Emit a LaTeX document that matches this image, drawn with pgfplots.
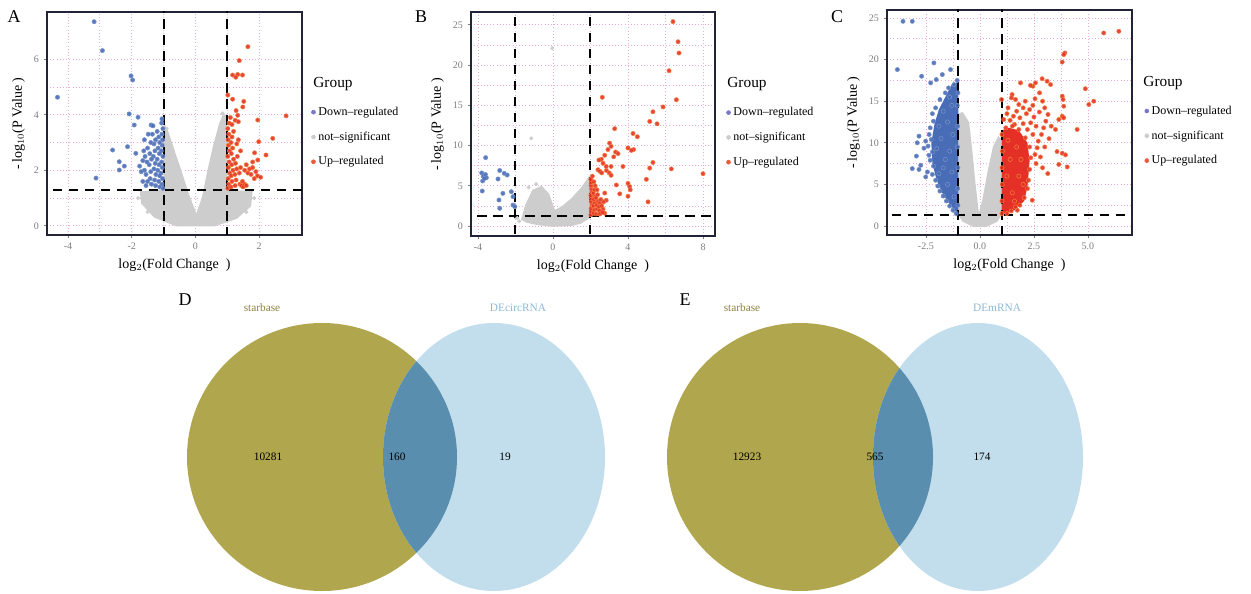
\documentclass[border=0pt]{standalone}
\usepackage{fontspec}
\setmainfont{Liberation Serif}
\usepackage{pgfplots}
\pgfplotsset{compat=1.18}
\definecolor{downc}{RGB}{72,108,182}
\definecolor{upc}{RGB}{228,48,38}
\definecolor{upe}{RGB}{242,125,60}
\definecolor{nsc}{RGB}{205,205,205}
\definecolor{gridc}{RGB}{238,170,215}
\definecolor{framec}{RGB}{35,35,55}
\definecolor{tickc}{RGB}{125,125,125}
\definecolor{vennL}{RGB}{176,166,78}
\definecolor{vennO}{RGB}{90,142,174}
\definecolor{vennR}{RGB}{194,222,236}
\definecolor{legdown}{RGB}{120,120,200}
\definecolor{legup}{RGB}{235,90,60}
\definecolor{txtL}{RGB}{140,130,60}
\definecolor{txtR}{RGB}{140,185,215}
\pgfplotsset{
 volcano/.style={
  scale only axis,
  axis line style={framec, line width=1.4pt},
  grid=both,
  major grid style={gridc, dotted, line width=0.6pt},
  minor grid style={gridc, dotted, line width=0.6pt},
  minor tick num=1,
  minor tick length=0pt,
  major tick length=2.5pt,
  tick align=outside,
  xtick pos=left, ytick pos=left,
  tick style={tickc, line width=0.6pt},
  tick label style={font=\fontsize{7.5}{8}\selectfont, text=tickc},
  /pgf/number format/assume math mode=true,
  xlabel style={font=\fontsize{10.5}{12}\selectfont},
  ylabel style={font=\fontsize{10.5}{12}\selectfont},
  xlabel={log$_2$(Fold Change\ \ )},
  ylabel={-\,log$_{10}$(P Value\ )},
  legend style={draw=none, fill=none, font=\fontsize{9}{10}\selectfont, anchor=north west, row sep=6.8pt, inner sep=0pt},
  legend cell align=left,
 },
 dn/.style={only marks, mark=*, mark size=1.6pt, mark options={fill=downc, draw=downc!75!white, fill opacity=0.9}, forget plot},
 up/.style={only marks, mark=*, mark size=1.6pt, mark options={fill=upc, draw=upe, fill opacity=0.9}, forget plot},
 ns/.style={only marks, mark=*, mark size=1.3pt, mark options={fill=nsc, draw=nsc}, forget plot},
 nsarea/.style={fill=nsc, draw=none, forget plot},
 dnarea/.style={fill=downc, draw=none, forget plot},
 uparea/.style={fill=upc, draw=none, forget plot},
 thr/.style={black, line width=1.5pt, dash pattern=on 7pt off 5pt, forget plot},
}
\newcommand{\legendset}{%
 \addlegendimage{legend image code/.code={\fill[legdown] (0.1cm,0cm) circle (1.5pt);}}
 \addlegendentry{Down--regulated}
 \addlegendimage{legend image code/.code={\fill[nsc] (0.1cm,0cm) circle (1.5pt);}}
 \addlegendentry{not--significant}
 \addlegendimage{legend image code/.code={\fill[legup] (0.1cm,0cm) circle (1.5pt);}}
 \addlegendentry{Up--regulated}
}
\begin{document}
\begin{tikzpicture}
\path[use as bounding box] (0pt,0pt) rectangle (938.25pt,444.75pt);
% ---------- full-picture axis: Venn diagrams and labels ----------
\begin{axis}[at={(0pt,0pt)}, anchor=south west, scale only axis,
  width=938.25pt, height=444.75pt, xmin=0, xmax=1251, ymin=0, ymax=593,
  hide axis, clip=false]
\fill[vennL] (axis cs:322,136) ellipse [x radius=135, y radius=134];
\fill[vennR] (axis cs:494,136) ellipse [x radius=111, y radius=134];
\begin{scope}
\clip (axis cs:322,136) ellipse [x radius=135, y radius=134];
\fill[vennO] (axis cs:494,136) ellipse [x radius=111, y radius=134];
\end{scope}
\fill[vennL] (axis cs:800,136) ellipse [x radius=133, y radius=134];
\fill[vennR] (axis cs:978,136) ellipse [x radius=105, y radius=134];
\begin{scope}
\clip (axis cs:800,136) ellipse [x radius=133, y radius=134];
\fill[vennO] (axis cs:978,136) ellipse [x radius=105, y radius=134];
\end{scope}
\node[font=\fontsize{8.5}{10}\selectfont, text=txtL] at (axis cs:262,285) {starbase};
\node[font=\fontsize{8.5}{10}\selectfont, text=txtR] at (axis cs:518,285) {DEcircRNA};
\node[font=\fontsize{8.5}{10}\selectfont, text=txtL] at (axis cs:742,285) {starbase};
\node[font=\fontsize{8.5}{10}\selectfont, text=txtR] at (axis cs:997,285) {DEmRNA};
\node[font=\fontsize{8.5}{10}\selectfont] at (axis cs:268,136) {10281};
\node[font=\fontsize{8.5}{10}\selectfont] at (axis cs:397,136) {160};
\node[font=\fontsize{8.5}{10}\selectfont] at (axis cs:505,136) {19};
\node[font=\fontsize{8.5}{10}\selectfont] at (axis cs:747,136) {12923};
\node[font=\fontsize{8.5}{10}\selectfont] at (axis cs:875,136) {565};
\node[font=\fontsize{8.5}{10}\selectfont] at (axis cs:982,136) {174};
\node[font=\fontsize{13.5}{15}\selectfont] at (axis cs:14,576) {A};
\node[font=\fontsize{13.5}{15}\selectfont] at (axis cs:421,576) {B};
\node[font=\fontsize{13.5}{15}\selectfont] at (axis cs:837,576) {C};
\node[font=\fontsize{13.5}{15}\selectfont] at (axis cs:185,293) {D};
\node[font=\fontsize{13.5}{15}\selectfont] at (axis cs:685,293) {E};
\node[font=\fontsize{11.5}{13}\selectfont] at (axis cs:333,509) {Group};
\node[font=\fontsize{11.5}{13}\selectfont] at (axis cs:747,509) {Group};
\node[font=\fontsize{11.5}{13}\selectfont] at (axis cs:1163,510) {Group};
\end{axis}
% ---------- A ----------
\begin{axis}[volcano, at={(35.25pt,268.5pt)}, anchor=south west,
  width=191.25pt, height=167.25pt,
  xmin=-4.66, xmax=3.35, ymin=-0.33, ymax=7.7,
  xtick={-4,-2,0,2}, ytick={0,2,4,6},
  legend style={at={(1.035,0.587)}}]
\legendset
\addplot[nsarea] coordinates {(-1.75,1.25) (-1.0,1.3) (-1.0,3.8) (-1.08,3.95) (-0.85,3.4) (-0.62,2.6) (-0.44,2.0) (-0.22,1.2) (0.03,0.45) (0.2,1.0) (0.38,2.0) (0.56,2.9) (0.75,3.7) (0.88,4.05) (1.0,3.95) (1.0,1.3) (1.8,1.25) (1.75,0.7) (1.3,0.25) (0.6,-0.02) (-0.6,-0.02) (-1.3,0.3) (-1.7,0.8)} -- cycle;
\addplot[ns] coordinates {(0.85,4.05) (-0.9,3.5) (1.85,1.0) (-1.8,1.0) (0.3,0.05) (-0.3,0.05) (1.6,0.5) (-1.5,0.5)};
\addplot[dn] coordinates {(-3.18,7.35) (-2.92,6.31) (-4.33,4.63) (-2.02,5.40) (-1.97,5.25) (-2.08,4.03) (-1.80,3.91) (-1.92,3.63) (-2.60,2.73) (-2.13,2.85) (-2.39,2.31) (-2.39,2.01) (-2.23,2.15) (-3.12,1.72) (-1.87,2.61) (-1.39,3.63) (-1.33,3.60)
(-1.02,1.35) (-1.05,1.5) (-1.03,1.7) (-1.08,1.9) (-1.04,2.1) (-1.06,2.3) (-1.02,2.5) (-1.07,2.7) (-1.04,2.9) (-1.03,3.1) (-1.05,3.3) (-1.02,3.5) (-1.06,3.7) (-1.05,3.85)
(-1.12,1.4) (-1.15,1.6) (-1.12,1.8) (-1.18,2.0) (-1.14,2.2) (-1.2,2.4) (-1.13,2.6) (-1.17,2.8) (-1.12,3.0) (-1.15,3.2) (-1.2,3.4)
(-1.25,1.45) (-1.28,1.65) (-1.24,1.85) (-1.3,2.05) (-1.26,2.25) (-1.32,2.5) (-1.27,2.7) (-1.3,2.95) (-1.25,3.1) (-1.35,3.3)
(-1.38,1.5) (-1.42,1.7) (-1.4,1.95) (-1.45,2.2) (-1.38,2.4) (-1.43,2.6) (-1.5,2.8) (-1.4,3.0)
(-1.5,1.6) (-1.55,1.85) (-1.6,2.0) (-1.52,2.3) (-1.58,2.5) (-1.62,2.7) (-1.7,1.95) (-1.75,2.15) (-1.65,2.35) (-1.48,3.3) (-1.6,3.1) (-1.55,1.45) (-1.65,1.6)};
\addplot[up] coordinates {(1.65,6.45) (1.38,5.95) (1.17,5.43) (1.33,5.45) (1.48,5.43) (1.27,5.35) (1.02,4.71) (1.17,4.56) (1.52,4.48) (1.49,4.28) (1.28,4.15) (1.33,3.98) (2.85,3.96) (1.96,3.81) (2.43,3.15) (1.99,3.03) (2.22,2.55) (1.86,2.63) (1.96,2.37)
(1.02,1.35) (1.05,1.5) (1.03,1.7) (1.08,1.9) (1.04,2.1) (1.06,2.3) (1.02,2.5) (1.07,2.7) (1.04,2.9) (1.03,3.1) (1.05,3.3) (1.02,3.5) (1.06,3.7) (1.12,1.4) (1.15,1.6) (1.12,1.8) (1.18,2.0) (1.14,2.2) (1.2,2.4) (1.13,2.6) (1.17,2.8) (1.12,3.0) (1.15,3.2) (1.2,3.4) (1.1,3.9) (1.15,3.65) (1.25,1.45) (1.28,1.65) (1.24,1.85) (1.3,2.05) (1.26,2.25) (1.32,2.5) (1.3,2.95) (1.25,3.8) (1.35,3.75) (1.4,1.5) (1.45,1.45) (1.5,1.4) (1.55,1.5) (1.6,1.45) (1.48,1.6) (1.38,1.9) (1.42,2.1) (1.55,2.0) (1.65,1.9) (1.7,2.05) (1.75,1.85) (1.8,2.1) (1.9,1.95) (1.95,1.8) (2.05,1.75) (1.85,1.7) (1.35,3.1) (1.42,2.7) (1.6,2.2) (1.8,2.3)};
\addplot[thr] coordinates {(-1,-5) (-1,30)};
\addplot[thr] coordinates {(1,-5) (1,30)};
\addplot[thr] coordinates {(-10,1.301) (10,1.301)};
\end{axis}
% ---------- B ----------
\begin{axis}[volcano, at={(353.25pt,267.75pt)}, anchor=south west,
  width=183pt, height=168pt,
  xmin=-4.37, xmax=8.64, ymin=-1.24, ymax=26.6,
  xtick={-4,0,4,8}, ytick={0,5,10,15,20,25},
  legend style={at={(1.045,0.587)}}]
\legendset
\addplot[nsarea] coordinates {(-1.7,0.8) (-1.5,2.5) (-1.1,4.5) (-0.6,5.0) (-0.2,4.0) (0.1,2.0) (0.5,2.5) (1.0,3.5) (1.5,4.8) (1.95,6.3) (1.98,1.0) (1.5,0.3) (1.0,0.0) (0,-0.1) (-0.8,0.1) (-1.4,0.4)} -- cycle;
\addplot[ns] coordinates {(-0.04,22.1) (-1.16,10.9) (-1.9,1.0) (-1.8,0.6) (-1.3,4.8) (-0.9,5.2)};
\addplot[dn] coordinates {(-3.59,8.5) (-3.8,6.6) (-3.72,6.2) (-3.6,6.4) (-3.55,6.0) (-3.75,5.6) (-3.66,5.9) (-3.77,4.35) (-2.84,6.9) (-2.6,6.55) (-2.44,6.34) (-2.93,5.85) (-2.67,4.06) (-2.88,3.23) (-2.84,2.2) (-2.22,4.27) (-2.13,3.65) (-2.13,2.6) (-2.03,2.4)};
\addplot[up] coordinates {(6.4,25.4) (6.67,22.9) (6.72,21.5) (6.19,19.3) (2.63,16.0) (6.58,15.7) (5.87,14.8) (5.33,14.2) (5.16,13.0) (5.55,12.7) (3.29,12.1) (4.27,11.5) (4.5,11.1) (3.02,10.3) (3.1,9.9) (2.93,9.5) (4.0,9.7) (4.3,9.5) (4.18,9.4) (3.34,9.2) (3.47,9.0) (3.24,8.6) (2.76,8.8) (2.58,8.3) (2.45,8.2) (2.67,7.8) (2.84,7.4) (3.1,7.4) (3.73,7.4) (5.33,7.9) (5.16,7.2) (6.31,7.1) (8.0,6.5) (4.98,5.8) (2.4,7.0) (2.5,6.8) (2.6,6.6) (2.85,6.9) (3.0,6.6) (3.1,6.3) (4.0,5.3) (4.09,4.9) (4.12,4.5) (3.38,5.1) (3.56,4.0) (4.0,3.7) (5.07,3.0) (2.76,4.1) (2.84,3.2) (2.76,1.6) (2.67,2.1)
(2.02,1.4) (2.05,1.8) (2.03,2.2) (2.08,2.6) (2.04,3.0) (2.06,3.4) (2.02,3.8) (2.07,4.2) (2.04,4.6) (2.03,5.0) (2.05,5.4) (2.02,5.8) (2.1,6.2) (2.15,1.6) (2.2,2.0) (2.15,2.5) (2.22,2.9) (2.18,3.3) (2.25,3.7) (2.15,4.1) (2.2,4.5) (2.25,5.0) (2.18,5.5) (2.3,1.5) (2.35,2.1) (2.32,2.6) (2.4,3.1) (2.3,3.5) (2.38,3.9) (2.45,2.4) (2.5,2.9) (2.55,3.3) (2.48,1.9) (2.6,2.5) (2.35,4.5) (2.5,1.5) (2.65,1.7) (2.7,3.0)};
\addplot[thr] coordinates {(-2,-5) (-2,30)};
\addplot[thr] coordinates {(2,-5) (2,30)};
\addplot[thr] coordinates {(-10,1.301) (10,1.301)};
\end{axis}
% ---------- C ----------
\begin{axis}[volcano, at={(665.25pt,268.5pt)}, anchor=south west,
  width=183.75pt, height=168.75pt,
  xmin=-4.3, xmax=7.04, ymin=-1.08, ymax=25.96,
  xtick={-2.5,0,2.5,5}, ytick={0,5,10,15,20,25},
  xticklabel style={/pgf/number format/.cd, fixed, fixed zerofill, precision=1},
  legend style={at={(1.05,0.587)}}]
\legendset
\addplot[nsarea] coordinates {(-1.0,1.3) (-1.0,13.5) (-0.8,13.7) (-0.5,12.5) (-0.35,9) (-0.2,5) (-0.05,1.6) (0.1,3) (0.35,6.5) (0.6,9.5) (0.85,10.8) (1.0,10.5) (1.0,1.3) (0.8,0.5) (0.3,-0.1) (-0.3,-0.1) (-0.8,0.5)} -- cycle;
\addplot[dnarea] coordinates {(-1.0,1.4) (-1.4,2.6) (-1.75,4.0) (-2.0,5.5) (-2.2,7.5) (-2.25,10) (-2.1,12.3) (-1.9,14) (-1.6,15.5) (-1.3,17) (-1.0,17.3)} -- cycle;
\addplot[uparea] coordinates {(1.0,1.4) (1.6,1.9) (2.05,3.0) (2.2,4.7) (2.3,7.8) (2.2,10.0) (1.8,11.5) (1.35,11.8) (1.0,11.5)} -- cycle;
\addplot[dn] coordinates {(-3.56,24.6) (-3.13,24.6) (-3.82,18.8) (-2.70,18.0) (-2.13,19.6) (-1.36,18.8) (-1.74,18.2) (-2.02,17.6) (-2.28,17.2) (-2.82,10.8) (-2.9,10.0) (-2.51,10.2) (-2.59,9.35) (-2.94,8.4) (-2.36,8.5) (-3.13,6.9) (-2.74,7.3) (-2.82,6.8) (-2.43,6.5) (-2.51,5.9)
(-1.05,17.5) (-1.2,17.0) (-1.45,16.6) (-1.6,16.0) (-1.85,15.2) (-2.05,14.2) (-2.2,13.5) (-2.15,12.6) (-2.3,11.8) (-2.35,11.0) (-2.25,10.4) (-2.4,9.6) (-2.2,8.9) (-2.3,7.9) (-2.15,7.2) (-2.2,6.2) (-2.05,5.5) (-1.95,4.8) (-1.85,4.2) (-1.7,3.6) (-1.55,3.0) (-1.4,2.4) (-1.25,1.9) (-1.1,1.5) (-1.02,2.5) (-1.03,4.5) (-1.02,7.0) (-1.04,9.5) (-1.03,12.0) (-1.05,14.5) (-1.02,16.0) (-1.5,5.0) (-1.7,7.0) (-1.4,9.0) (-1.8,10.5) (-1.5,12.5) (-1.3,14.5) (-1.9,12.0) (-1.6,8.0) (-1.3,6.5) (-1.2,3.5) (-1.7,13.8) (-1.4,15.5) (-2.0,9.3) (-1.9,6.3) (-1.25,11.0)};
\addplot[up] coordinates {(5.73,23.2) (6.43,23.4) (3.93,20.8) (3.81,19.7) (3.88,20.6) (4.88,16.5) (5.04,14.6) (5.27,15.0) (3.81,15.6) (3.85,15.2) (3.88,14.4) (2.88,17.7) (3.11,17.4) (3.27,17.0) (2.57,17.2) (2.45,16.8) (2.76,16.0) (1.88,17.2) (2.34,16.9) (1.49,15.8) (1.46,15.4) (1.65,15.2) (1.0,15.2) (3.81,13.2) (3.88,13.0) (3.65,12.8) (4.5,11.6) (3.5,11.6) (3.57,8.95) (3.81,8.75) (3.96,8.55) (3.65,7.4) (4.04,7.1) (3.14,6.3) (2.42,3.1) (1.65,2.3) (1.73,1.9)
(3.0,14.2) (3.15,13.4) (3.05,12.6) (2.95,11.8) (2.85,11.0) (2.7,10.2) (2.65,9.4) (2.55,8.6) (2.8,8.3) (2.6,7.5) (2.45,14.5) (2.3,14.0) (2.15,13.5) (2.0,14.2) (1.85,13.0) (1.7,13.8) (1.55,13.2) (1.4,12.7) (1.25,13.5) (1.1,12.8) (2.5,13.1) (2.35,12.4) (2.6,12.0) (2.2,11.6) (2.45,11.0) (2.0,12.3) (1.6,12.2) (2.75,13.7) (2.9,15.0) (2.55,15.3) (2.1,15.0) (1.8,14.6) (1.3,14.2) (3.3,12.0) (3.2,10.5) (3.0,9.5) (2.9,7.0)
(1.02,1.5) (1.02,3.0) (1.03,5.0) (1.02,7.0) (1.04,9.0) (1.02,11.0) (1.2,11.8) (1.5,12.0) (1.8,11.6) (2.1,10.6) (2.3,9.5) (2.35,8.2) (2.3,6.8) (2.25,5.5) (2.2,4.5) (2.05,3.4) (1.85,2.5) (1.45,1.8) (1.25,1.5) (1.5,4.0) (1.8,6.0) (1.4,8.0) (1.7,9.5) (1.3,10.3) (1.9,8.0) (1.6,3.0) (2.0,5.0) (1.25,6.0)};
\addplot[thr] coordinates {(-1,-5) (-1,30)};
\addplot[thr] coordinates {(1,-5) (1,30)};
\addplot[thr] coordinates {(-10,1.301) (10,1.301)};
\end{axis}
\end{tikzpicture}
\end{document}
